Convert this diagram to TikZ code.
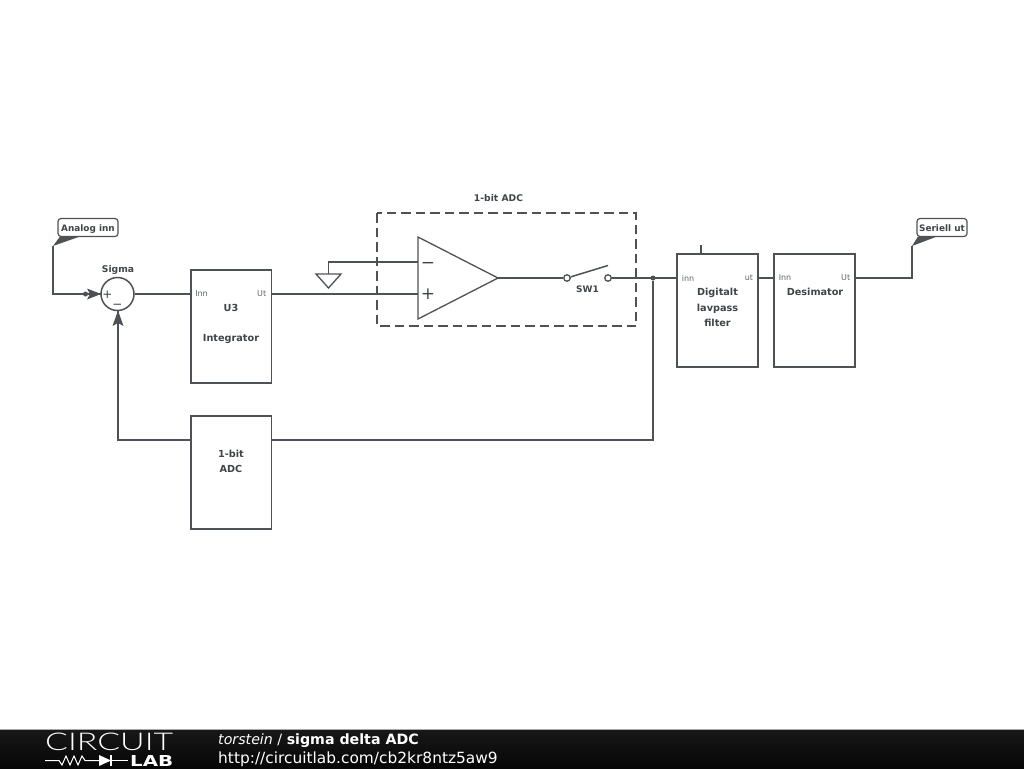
\documentclass[tikz,border=0pt]{standalone}
\usepackage{fontspec}
\setmainfont{DejaVu Sans}
\newfontfamily\logofont{Lato Light}
\usepackage{tikz}
\usetikzlibrary{positioning,calc}
\definecolor{wiregray}{RGB}{78,82,86}
\definecolor{labelgray}{RGB}{64,68,72}
\definecolor{pingray}{RGB}{95,99,103}
\definecolor{barblack}{RGB}{6,6,6}
\definecolor{bartop}{RGB}{24,24,24}
\definecolor{barline}{RGB}{170,170,170}

\begin{document}
\begin{tikzpicture}[x=1pt,y=-1pt,
    wire/.style={wiregray,line width=1.5pt,line join=miter},
    blockbox/.style={draw=wiregray,line width=1.6pt,fill=white,anchor=north west,inner sep=0pt,outer sep=0pt},
    blocktext/.style={text=labelgray,font=\fontsize{9.7}{15.5}\selectfont\bfseries,align=center,inner sep=0pt},
    pintext/.style={text=pingray,font=\fontsize{8}{10}\selectfont,inner sep=0pt},
    flagbox/.style={draw=wiregray,line width=1.2pt,fill=white,rounded corners=3pt,inner sep=0pt,outer sep=0pt,
        text=labelgray,font=\fontsize{8.9}{10}\selectfont\bfseries,text height=10pt,text depth=1.5pt},
    pindot/.style={circle,fill=wiregray,inner sep=0pt,minimum size=5pt},
    swpole/.style={circle,draw=wiregray,line width=1.3pt,fill=white,inner sep=0pt,minimum size=6.5pt}]
    \useasboundingbox (0,0) rectangle (1024,768);
    % Blocker
    \node[blockbox,minimum width=80.5pt,minimum height=113pt] (u3) at (191,270) {};
    \node[blockbox,minimum width=80.5pt,minimum height=113pt] (adcfb) at (191,416) {};
    \node[blockbox,minimum width=81pt,minimum height=113pt] (lavpass) at (677,254) {};
    \node[blockbox,minimum width=81pt,minimum height=113pt] (desim) at (774,254) {};
    \node[circle,draw=wiregray,line width=1.5pt,inner sep=0pt,minimum size=33pt] (sigma) at (117.5,294) {};
    \draw[wiregray,dashed,dash pattern=on 9.5pt off 5pt,line width=1.4pt] (377,213) rectangle (636,326);
    % Tekst i blokkene
    \node[blocktext,font=\fontsize{9.2}{10}\selectfont\bfseries] (sigmalabel) at (118,269.5) {Sigma};
    \node[blocktext] (u3label) at (231,308) {U3};
    \node[blocktext] (intlabel) at (231,339.5) {Integrator};
    \node[blocktext] (fblabel) at (231,461.5) {1-bit\\ADC};
    \node[blocktext] (lavlabel) at (717.5,307.5) {Digitalt\\lavpass\\filter};
    \node[blocktext] (desimlabel) at (815,292) {Desimator};
    \node[blocktext,font=\fontsize{9.2}{10}\selectfont\bfseries] (adclabel) at (498.5,198.5) {1-bit ADC};
    \node[blocktext,font=\fontsize{9}{10}\selectfont\bfseries] (swlabel) at (587.5,289.5) {SW1};
    \node[pintext] (u3inn) at (201.5,294) {Inn};
    \node[pintext] (u3ut) at (261.7,294) {Ut};
    \node[pintext] (lavinn) at (688,278) {inn};
    \node[pintext] (lavut) at (749,278) {ut};
    \node[pintext] (desinn) at (785,278) {Inn};
    \node[pintext] (desut) at (845.7,278) {Ut};
    \node[text=labelgray,font=\fontsize{12}{13}\selectfont,inner sep=0pt] (sigplus) at (107.5,294.5) {+};
    \node[text=labelgray,font=\fontsize{12}{13}\selectfont,inner sep=0pt] (sigminus) at (117.5,306) {−};
    % Tilkoblingspunkter
    \coordinate (u3west) at (191,294);
    \coordinate (u3east) at (271.5,294);
    \coordinate (lavwest) at (677,278);
    \coordinate (laveast) at (758,278);
    \coordinate (deswest) at (774,278);
    \coordinate (deseast) at (855,278);
    \coordinate (adcwest) at (191,440);
    \coordinate (adceast) at (271.5,440);
    \coordinate (lavstub) at (701,245);
    \coordinate (lavtop) at (701,254);
    % Operasjonsforsterker
    \coordinate (ampminus) at (418,262);
    \coordinate (ampplus) at (418,294);
    \coordinate (ampout) at (498,278);
    \draw[wire,line width=1.3pt] (418,237) -- (418,319) -- (ampout) -- cycle;
    \node[text=labelgray,font=\fontsize{17}{17}\selectfont,inner sep=0pt] (ampm) at (428,265) {−};
    \node[text=labelgray,font=\fontsize{17}{17}\selectfont,inner sep=0pt] (ampp) at (428,294.5) {+};
    % Jord
    \coordinate (gndtop) at (328.5,274);
    \draw[wire,line width=1.3pt] (316,274) -- (341,274) -- (328.5,288) -- cycle;
    \draw[wire,line width=1.3pt] (ampminus) -| (gndtop);
    % Bryter
    \node[swpole] (swa) at (567,278) {};
    \node[swpole] (swb) at (608,278) {};
    \coordinate (swtip) at (608,265.5);
    \draw[wire] (swa) -- (swtip);
    % Ledninger
    \node[pindot] (jct) at (653,278) {};
    \draw[wire] (u3east) -- (ampplus);
    \draw[wire] (ampout) -- (swa);
    \draw[wire] (swb) -- (lavwest);
    \draw[wire] (laveast) -- (deswest);
    \draw[wire] (sigma) -- (u3west);
    \draw[wire] (jct) |- (adceast);
    \draw[wire] (lavstub) -- (lavtop);
    \coordinate (fbtip) at (118,310.5);
    \draw[wire] (adcwest) -| (fbtip);
    \fill[wiregray] (fbtip) -- (123.5,326) -- (118,323) -- (112.5,326) -- cycle;
    % Inngang
    \node[flagbox,minimum width=60pt,minimum height=18pt] (inflag) at (88,227.5) {Analog inn};
    \coordinate (inwedge) at (53,246);
    \coordinate (sigtip) at (101,294);
    \node[pindot] (indot) at (85.5,294) {};
    \fill[wiregray] (inwedge) -- (60,236.5) -- (80,236.5) -- cycle;
    \draw[wire] (inwedge) |- (sigtip);
    \fill[wiregray] (sigtip) -- (87,288.5) -- (90,294) -- (87,299.5) -- cycle;
    % Utgang
    \node[flagbox,minimum width=50pt,minimum height=18pt] (outflag) at (942,227.5) {Seriell ut};
    \coordinate (outwedge) at (912,246);
    \fill[wiregray] (outwedge) -- (918,236.5) -- (937,236.5) -- cycle;
    \draw[wire] (deseast) -| (outwedge);
    % Bunnfelt
    \shade[top color=bartop,bottom color=barblack] (0,729) rectangle (1024,768);
    \draw[barline,line width=1pt] (0,729) -- (1024,729);
    \node[white,anchor=west,inner sep=0pt] (logotop) at (45,741.5) {\resizebox{128pt}{17.5pt}{\logofont CIRCUIT}};
    \node[white,anchor=west,inner sep=0pt] (logolab) at (130,760.5) {\resizebox{43pt}{11pt}{\bfseries LAB}};
    \coordinate (logol) at (45,760.5);
    \coordinate (logor) at (128,760.5);
    \draw[white,line width=1pt] (logol) -- (59,760.5) -- (62,765) -- (66,756) -- (70,765) -- (74,756) -- (78,765) -- (82,756) -- (85,760.5) -- (99,760.5);
    \fill[white] (99,755) -- (111,760.5) -- (99,766) -- cycle;
    \draw[white,line width=1.2pt] (111,755) -- (111,766);
    \draw[white,line width=1pt] (111,760.5) -- (logor);
    \node[white,anchor=west,inner sep=0pt,font=\fontsize{14.2}{14}\selectfont] (title) at (218,740.2) {\textit{torstein} / \textbf{sigma delta ADC}};
    \node[white,anchor=west,inner sep=0pt,font=\fontsize{15.4}{15}\selectfont] (urltext) at (218,759.5) {http://circuitlab.com/cb2kr8ntz5aw9};
\end{tikzpicture}
\end{document}
